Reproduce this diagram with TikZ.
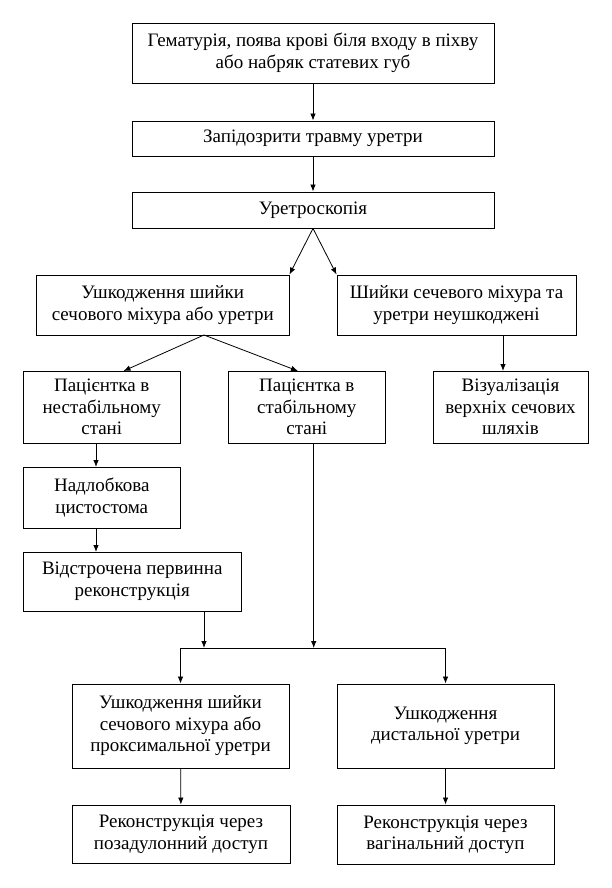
\documentclass[tikz,border=0pt]{standalone}
\usepackage{fontspec}
\setmainfont{Liberation Serif}
\usetikzlibrary{arrows.meta}
\begin{document}
\begin{tikzpicture}[x=1pt,y=-1pt,
  box/.style={draw, line width=0.9pt, rectangle, inner sep=0pt, align=center,
    font=\fontsize{19}{21.5}\selectfont},
  arr/.style={-{Latex[length=7pt,width=5.5pt]}, line width=0.8pt},
  ln/.style={line width=0.8pt}]
\useasboundingbox (0,0) rectangle (612,888);
% boxes
\node[box, minimum width=362pt, minimum height=60pt] (b1) at (313,53) {Гематурія, поява крові біля входу в піхву\\або набряк статевих губ};
\node[box, minimum width=362pt, minimum height=35pt] (b2) at (313,138.5) {Запідозрити травму уретри};
\node[box, minimum width=362pt, minimum height=36pt] (b3) at (313,210) {Уретроскопія};
\node[box, minimum width=252.5pt, minimum height=60pt] (b4) at (162.75,305) {Ушкодження шийки\\сечового міхура або уретри};
\node[box, minimum width=239pt, minimum height=60pt] (b5) at (456.5,305) {Шийки сечевого міхура та\\уретри неушкоджені};
\node[box, minimum width=156.5pt, minimum height=72pt] (b6) at (101.75,407) {Пацієнтка в\\нестабільному\\стані};
\node[box, minimum width=156.4pt, minimum height=72pt] (b7) at (306.8,407) {Пацієнтка в\\стабільному\\стані};
\node[box, minimum width=155pt, minimum height=72pt] (b8) at (510.5,407) {Візуалізація\\верхніх сечових\\шляхів};
\node[box, minimum width=156.5pt, minimum height=61pt] (b9) at (101.75,497.5) {Надлобкова\\цистостома};
\node[box, minimum width=217.5pt, minimum height=59pt] (b10) at (132.25,581.5) {Відстрочена первинна\\реконструкція};
\node[box, minimum width=217pt, minimum height=84pt] (b11) at (180.5,726) {Ушкодження шийки\\сечового міхура або\\проксимальної уретри};
\node[box, minimum width=217pt, minimum height=84pt] (b12) at (445.5,726) {Ушкодження\\дистальної уретри};
\node[box, minimum width=218pt, minimum height=58pt] (b13) at (181,834) {Реконструкція через\\позадулонний доступ};
\node[box, minimum width=217pt, minimum height=59pt] (b14) at (445.5,834.5) {Реконструкція через\\вагінальний доступ};
% coordinates
\coordinate (s4) at (204,335);
\coordinate (t6) at (123.5,371);
\coordinate (t7) at (298,371);
\coordinate (s5) at (503,335);
\coordinate (t8) at (503,371);
\coordinate (s6) at (96,443);
\coordinate (t9) at (96,467);
\coordinate (s9) at (96,528);
\coordinate (t10) at (96,552);
\coordinate (s10) at (204,611);
\coordinate (j10) at (204,648);
\coordinate (s7) at (313.7,443);
\coordinate (j7) at (313.7,648);
\coordinate (jl) at (180.5,648);
\coordinate (jr) at (445.5,648);
% connectors
\draw[arr] (b1) -- (b2);
\draw[arr] (b2) -- (b3);
\draw[arr] (b3.south) -- (b4.north east);
\draw[arr] (b3.south) -- (b5.north west);
\draw[arr] (s4) -- (t6);
\draw[arr] (s4) -- (t7);
\draw[arr] (s5) -- (t8);
\draw[arr] (s6) -- (t9);
\draw[arr] (s9) -- (t10);
\draw[arr] (s10) -- (j10);
\draw[arr] (s7) -- (j7);
\draw[ln] (jl) -- (jr);
\draw[arr] (jl) -- (b11);
\draw[arr] (jr) -- (b12);
\draw[arr] (b11) -- (b13);
\draw[arr] (b12) -- (b14);
\end{tikzpicture}
\end{document}
